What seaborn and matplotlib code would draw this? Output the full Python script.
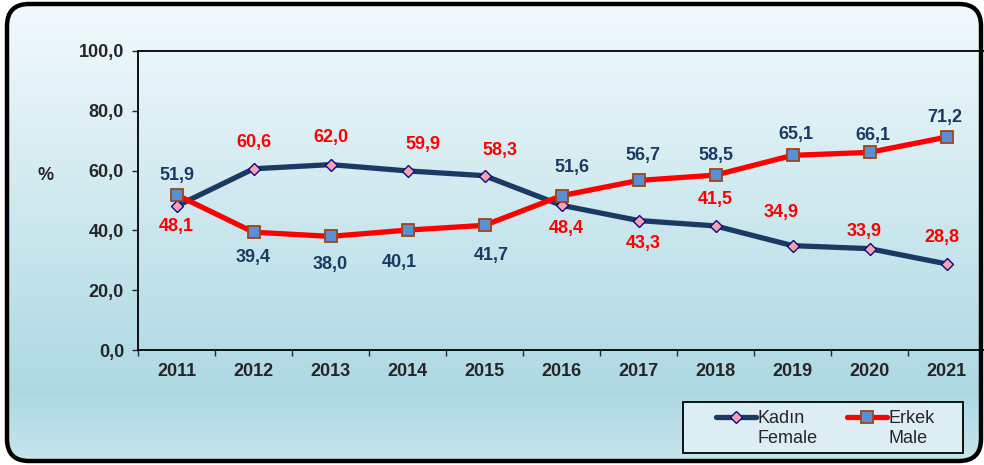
import numpy as np
import pandas as pd
import seaborn as sns
import matplotlib.pyplot as plt
from matplotlib.patches import FancyBboxPatch, Rectangle
from matplotlib.lines import Line2D
from matplotlib.ticker import FuncFormatter, FixedLocator

# data
years = [2011, 2012, 2013, 2014, 2015, 2016, 2017, 2018, 2019, 2020, 2021]
kadin = [48.1, 60.6, 62.0, 59.9, 58.3, 48.4, 43.3, 41.5, 34.9, 33.9, 28.8]
erkek = [51.9, 39.4, 38.0, 40.1, 41.7, 51.6, 56.7, 58.5, 65.1, 66.1, 71.2]
yticks = [0, 20, 40, 60, 80, 100]

# label offsets (pixels)
kadin_off = [(0, -20), (0, 26), (0, 27), (15, 26), (15, 25), (5, -23),
             (5, -23), (0, 26), (-11, 33), (-5, 17), (-5, 26)]
erkek_off = [(0, 19), (0, -25), (0, -28), (-8, -32), (7, -30), (10, 28),
             (4, 25), (0, 20), (3, 21), (3, 17), (-2, 20)]

navy = '#1b3a63'
red = '#ff0000'

sns.set_style('white')
plt.rcParams['font.family'] = ['Liberation Sans', 'DejaVu Sans']

W, H = 984, 465
fig = plt.figure(figsize=(W / 100, H / 100), dpi=100)
fig.patch.set_facecolor('white')

# background box with gradient
bg = fig.add_axes([0, 0, 1, 1], zorder=-5)
bg.set_xlim(0, W)
bg.set_ylim(0, H)
bg.axis('off')
t = np.linspace(0, 1, 256)
top_c = np.array([0.95, 0.98, 0.99])
mid_c = np.array([0.68, 0.85, 0.89])
bot_c = np.array([0.78, 0.90, 0.93])
grad = np.where(t[:, None] < 0.85,
                top_c + (mid_c - top_c) * (t[:, None] / 0.85),
                mid_c + (bot_c - mid_c) * ((t[:, None] - 0.85) / 0.15))
box = FancyBboxPatch((7, 4), 974, 457, boxstyle='round,pad=0,rounding_size=22',
                     facecolor='none', edgecolor='black', lw=3.2, zorder=3)
im = bg.imshow(grad[:, None, :], extent=(7, 981, 4, 461), aspect='auto', origin='upper', zorder=1)
bg.add_patch(box)
im.set_clip_path(box)
# legend frame
bg.add_patch(Rectangle((683, H - 453), 280, 51, facecolor='#dcedf3',
                       edgecolor='black', lw=1.3, zorder=4))

# main axes
ax = fig.add_axes([138 / W, (H - 350) / H, (985 - 138) / W, (350 - 51) / H])
ax.patch.set_alpha(0)

sns.lineplot(x=years, y=kadin, ax=ax, color=navy, lw=3.8, marker='D', markersize=6.3,
             markerfacecolor='#f7a1aa', markeredgecolor='#0a0a8a', markeredgewidth=1.0,
             label='Kadın', legend=False)
sns.lineplot(x=years, y=erkek, ax=ax, color=red, lw=3.8, marker='s', markersize=8,
             markerfacecolor='#5a8fd8', markeredgecolor='#9c4515', markeredgewidth=1.3,
             label='Erkek', legend=False)

for yr, v, (dx, dy) in zip(years, kadin, kadin_off):
    ax.annotate(f'{v:.1f}'.replace('.', ','), (yr, v), xytext=(dx, dy),
                textcoords='offset pixels', ha='center', va='center',
                color=red, fontsize=13, fontweight='bold')
for yr, v, (dx, dy) in zip(years, erkek, erkek_off):
    ax.annotate(f'{v:.1f}'.replace('.', ','), (yr, v), xytext=(dx, dy),
                textcoords='offset pixels', ha='center', va='center',
                color=navy, fontsize=13, fontweight='bold')

ax.set_xlim(years[0] - 0.5, years[-1] + 0.5)
ax.set_ylim(0, 100)
ax.set_yticks(yticks)
ax.yaxis.set_major_formatter(FuncFormatter(lambda v, p: f'{v:.1f}'.replace('.', ',')))
ax.set_xticks(years)
ax.set_xticklabels([str(y) for y in years])
ax.xaxis.set_minor_locator(FixedLocator([y - 0.5 for y in years] + [years[-1] + 0.5]))
ax.tick_params(axis='x', which='major', length=0, pad=9, labelsize=13)
ax.tick_params(axis='x', which='minor', length=4, width=1, direction='out', bottom=True)
ax.tick_params(axis='y', length=4, width=1, direction='out', left=True, pad=6, labelsize=13)
for lab in ax.get_xticklabels() + ax.get_yticklabels():
    lab.set_fontweight('bold')
for s in ['left', 'top', 'bottom']:
    ax.spines[s].set_visible(True)
    ax.spines[s].set_color('black')
    ax.spines[s].set_linewidth(1.3)
ax.spines['right'].set_visible(False)
ax.set_xlabel('')
ax.set_ylabel('')

fig.text(46 / W, 1 - 175 / H, '%', ha='center', va='center', fontsize=13, fontweight='bold')

# legend
blank = Line2D([], [], alpha=0)
h_k = Line2D([], [], color=navy, lw=3.8, marker='D', markersize=6.3,
             markerfacecolor='#f7a1aa', markeredgecolor='#0a0a8a')
h_e = Line2D([], [], color=red, lw=3.8, marker='s', markersize=8,
             markerfacecolor='#5a8fd8', markeredgecolor='#9c4515', markeredgewidth=1.3)
leg = fig.legend([h_k, blank, h_e, blank], ['Kadın', 'Female', 'Erkek', 'Male'],
                 ncol=2, loc='upper left', bbox_to_anchor=(716 / W, 1 - 410 / H),
                 frameon=False, fontsize=13, handlelength=2.2,
                 handletextpad=0.1, columnspacing=1.65, labelspacing=0.15,
                 borderpad=0, borderaxespad=0)

fig.savefig('out.png', dpi=100)
